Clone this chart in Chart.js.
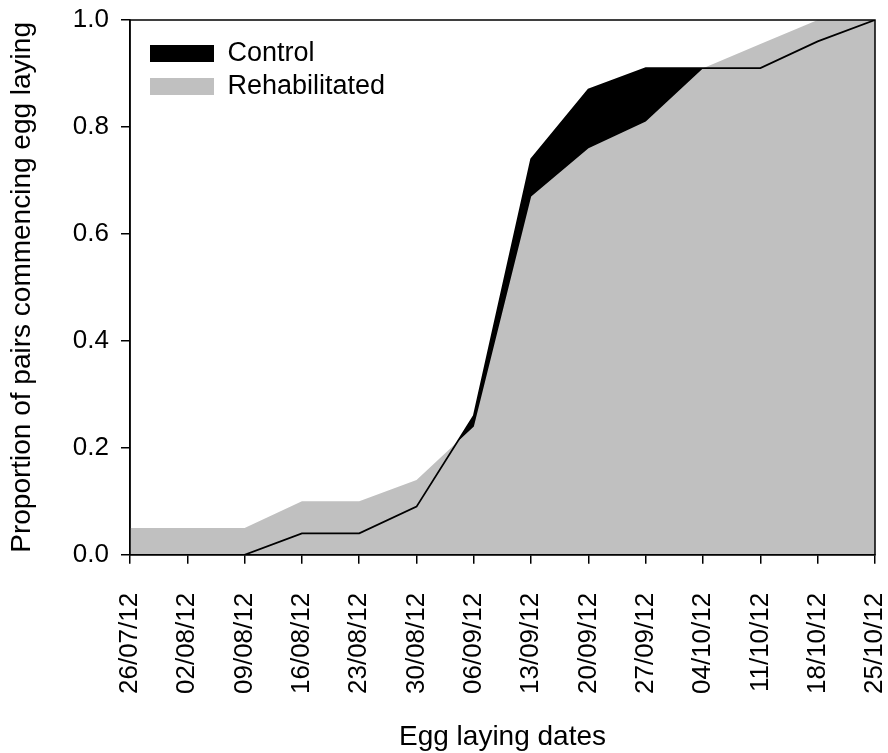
<!DOCTYPE html>
<html>
<head>
<meta charset="utf-8">
<script src="https://cdn.jsdelivr.net/npm/chart.js@4"></script>
<style>
html,body{margin:0;padding:0;background:#fff;}
#wrap{width:888px;height:753px;position:relative;}
</style>
</head>
<body>
<div id="wrap"><canvas id="c" width="888" height="753"></canvas></div>
<script>
const dates = ["26/07/12","02/08/12","09/08/12","16/08/12","23/08/12","30/08/12","06/09/12","13/09/12","20/09/12","27/09/12","04/10/12","11/10/12","18/10/12","25/10/12"];
const control = [0,0,0,0.04,0.04,0.09,0.26,0.74,0.87,0.91,0.91,0.91,0.96,1.0];
const rehabilitated = [0.05,0.05,0.05,0.10,0.10,0.14,0.24,0.67,0.76,0.81,0.91,0.955,1.0,1.0];
const yTicks = [0,0.2,0.4,0.6,0.8,1.0];

const FONT = "'Liberation Sans', Arial, sans-serif";

const boxPlugin = {
  id:'boxPlugin',
  afterLayout(chart){
    if (chart.legend) { chart.legend.top += 34; chart.legend.left += 14; }
  },
  afterDatasetsDraw(chart){
    const a = chart.chartArea, ctx = chart.ctx;
    ctx.save();
    ctx.strokeStyle = '#000';
    ctx.lineWidth = 1.5;
    ctx.strokeRect(a.left, a.top, a.right - a.left, a.bottom - a.top);
    ctx.restore();
  }
};

new Chart(document.getElementById('c'), {
  type:'line',
  data:{
    labels: dates,
    datasets:[
      {label:'Rehabilitated', data: rehabilitated, backgroundColor:'#c0c0c0', borderColor:'#c0c0c0', borderWidth:0, fill:'origin', pointRadius:0, tension:0, order:2},
      {label:'Control', data: control, backgroundColor:'#000', borderColor:'#000', borderWidth:0, fill:'origin', pointRadius:0, tension:0, order:3},
      {label:'ControlLine', data: control, backgroundColor:'#000', borderColor:'#000', borderWidth:1.8, fill:false, pointRadius:0, tension:0, order:1}
    ]
  },
  options:{
    responsive:false,
    animation:false,
    devicePixelRatio:1,
    layout:{padding:{left:0,right:0,top:20,bottom:2}},
    plugins:{
      tooltip:{enabled:false},
      legend:{
        position:'chartArea',
        align:'start',
        reverse:true,
        labels:{
          font:{family:FONT,size:27},
          color:'#000',
          boxWidth:64,
          boxHeight:17,
          padding:6,
          filter:(item)=>item.text!=='ControlLine',
          generateLabels:(chart)=>{
            return chart.data.datasets.map((d,i)=>({text:d.label, fillStyle:d.backgroundColor, strokeStyle:d.backgroundColor, lineWidth:0, datasetIndex:i, fontColor:'#000'}));
          }
        }
      }
    },
    scales:{
      x:{
        type:'category',
        offset:false,
        afterFit:(axis)=>{ axis.paddingRight = 13; axis.paddingLeft = 0; },
        grid:{display:true, drawOnChartArea:false, drawTicks:true, tickLength:9, color:'#000', lineWidth:1.5},
        border:{display:true,color:'#000',width:1.5},
        ticks:{font:{family:FONT,size:26}, color:'#000', maxRotation:90, minRotation:90, autoSkip:false, padding:29},
        title:{display:true, text:'Egg laying dates', font:{family:FONT,size:28,lineHeight:1.0}, color:'#000', padding:{top:0,bottom:0}}
      },
      y:{
        min:0, max:1,
        afterBuildTicks:(axis)=>{ axis.ticks = yTicks.map(v=>({value:v})); },
        afterFit:(axis)=>{ axis.width = 130; axis.paddingTop = 0; axis.paddingBottom = 0; },
        grid:{display:true, drawOnChartArea:false, drawTicks:true, tickLength:9, color:'#000', lineWidth:1.5},
        border:{display:true,color:'#000',width:1.5},
        ticks:{font:{family:FONT,size:26}, color:'#000', padding:12, callback:(v)=>Number(v).toFixed(1)},
        title:{display:true, text:'Proportion of pairs commencing egg laying', font:{family:FONT,size:28}, color:'#000', padding:{top:5,bottom:4}}
      }
    }
  },
  plugins:[boxPlugin]
});
</script>
</body>
</html>
